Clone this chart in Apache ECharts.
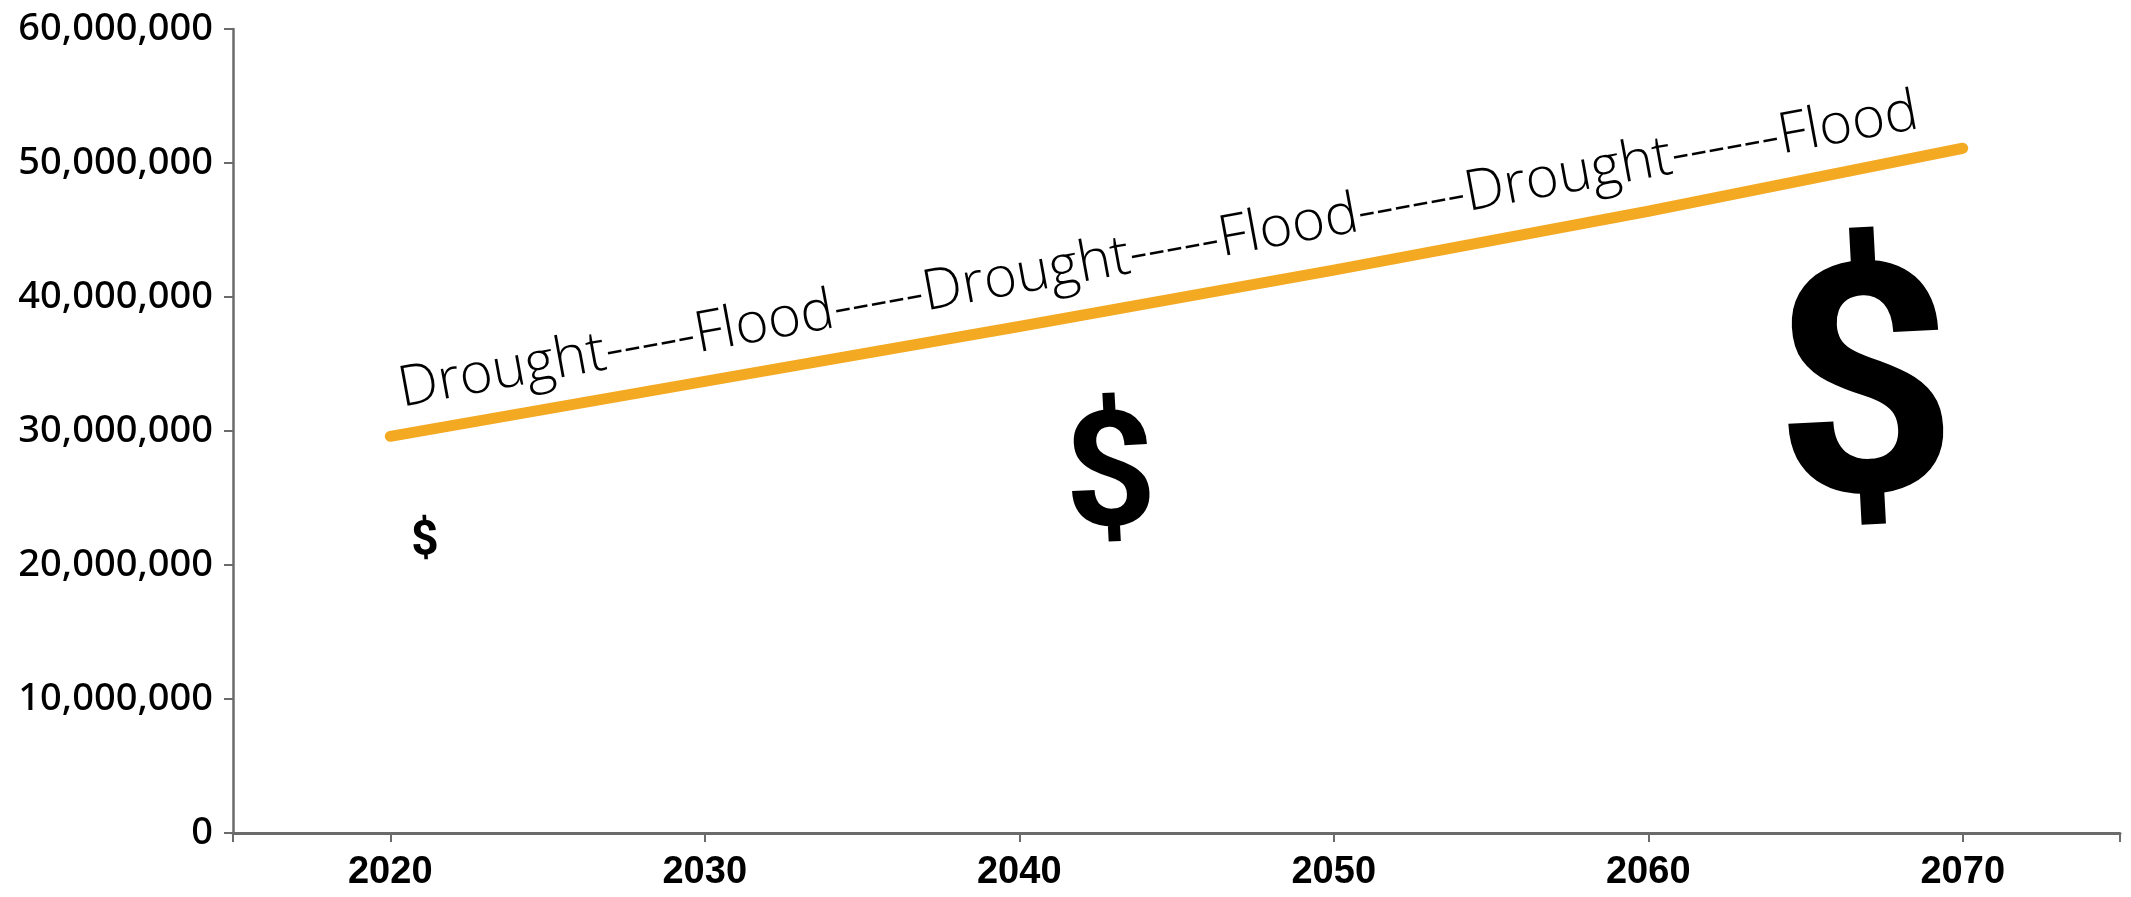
<!DOCTYPE html>
<html>
<head>
<meta charset="utf-8">
<title>Population growth and water cost</title>
<script src="https://cdn.jsdelivr.net/npm/echarts@6/dist/echarts.min.js"></script>
<style>
  html, body { margin: 0; padding: 0; background: #ffffff; }
  #chart { width: 2131px; height: 897px; }
</style>
</head>
<body>
<div id="chart"></div>
<script>
// Projected population by decade
const years = [2020, 2030, 2040, 2050, 2060, 2070];
const population = [29600000, 33700000, 37800000, 42000000, 46400000, 51100000];

// Axis ticks and labels
const yTicks = [0, 10000000, 20000000, 30000000, 40000000, 50000000, 60000000];
const xTickYears = [2015, 2020, 2030, 2040, 2050, 2060, 2070, 2075];
const xLabelYears = [2020, 2030, 2040, 2050, 2060, 2070];

// Drought/flood cycle annotation running along the line
const cycleText = 'Drought-----Flood-----Drought-----Flood------Drought------Flood';
const cycleAnchor = [2020.28, 33000000];

// Rising cost markers
const costYears = [2021.1, 2042.9, 2066.9];
const costValues = [21700000, 26000000, 31500000];
const costSymbols = ['$', '$', '$'];

const costFontSizes = [48, 160, 320];

const chart = echarts.init(document.getElementById('chart'), null, { renderer: 'canvas' });

const option = {
  backgroundColor: '#ffffff',
  animation: false,
  grid: { left: 233, right: 11, top: 29, bottom: 64, containLabel: false },
  xAxis: {
    type: 'value',
    min: 2015,
    max: 2075,
    splitLine: { show: false },
    axisLine: { show: true, lineStyle: { color: '#6b6b6b', width: 3 } },
    axisTick: {
      show: true,
      customValues: xTickYears,
      length: 9,
      lineStyle: { color: '#6b6b6b', width: 2 }
    },
    axisLabel: {
      customValues: xLabelYears,
      formatter: v => String(v),
      margin: 21,
      color: '#000000',
      fontFamily: '"Liberation Sans", Arial, sans-serif',
      fontWeight: 'bold',
      fontSize: 38
    }
  },
  yAxis: {
    type: 'value',
    min: 0,
    max: 60000000,
    interval: 10000000,
    splitLine: { show: false },
    axisLine: { show: true, onZero: false, lineStyle: { color: '#6b6b6b', width: 2.5 } },
    axisTick: { show: true, length: 9, lineStyle: { color: '#6b6b6b', width: 2 } },
    axisLabel: {
      margin: 20,
      color: '#000000',
      fontFamily: '"Noto Sans", "Open Sans", sans-serif',
      fontWeight: 500,
      fontSize: 38
    }
  },
  series: [
    {
      type: 'line',
      data: years.map((y, i) => [y, population[i]]),
      showSymbol: false,
      symbol: 'none',
      lineStyle: { color: '#F4A922', width: 11, cap: 'round', join: 'round' },
      z: 3
    },
    {
      type: 'scatter',
      data: [cycleAnchor],
      symbolSize: 0,
      silent: true,
      itemStyle: { opacity: 1 },
      label: {
        show: true,
        formatter: cycleText,
        position: 'right',
        distance: 0,
        rotate: 10.4,
        align: 'left',
        verticalAlign: 'middle',
        color: '#000000',
        opacity: 1,
        fontFamily: '"Open Sans", Lato, sans-serif',
        fontWeight: 300,
        fontSize: 56.5
      },
      z: 4
    },
    {
      type: 'scatter',
      data: costYears.map((y, i) => ({
        value: [y, costValues[i]],
        label: { fontSize: costFontSizes[i] }
      })),
      symbolSize: 0,
      silent: true,
      itemStyle: { opacity: 1 },
      label: {
        show: true,
        formatter: p => costSymbols[p.dataIndex],
        position: 'inside',
        rotate: 3,
        color: '#000000',
        opacity: 1,
        fontFamily: 'Roboto, "Open Sans", sans-serif',
        fontWeight: 'bold'
      },
      z: 4
    }
  ]
};

option.yAxis.axisLabel.formatter = v => yTicks.includes(v) ? v.toLocaleString('en-US') : '';

chart.setOption(option);
</script>
</body>
</html>
